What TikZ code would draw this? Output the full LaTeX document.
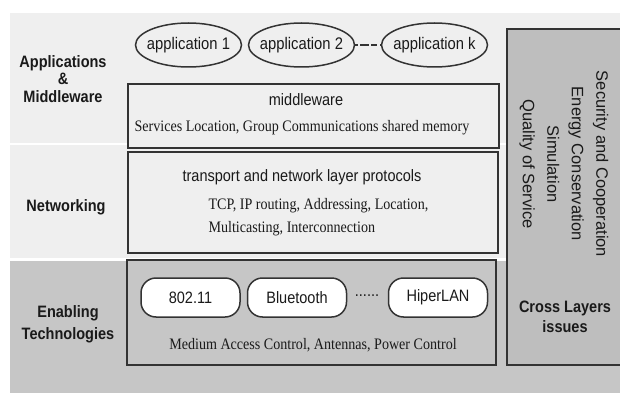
\documentclass[tikz,border=0pt]{standalone}
\usepackage{fontspec}
\setsansfont[FakeStretch=0.88]{Liberation Sans}
\setmainfont[FakeStretch=0.88]{Liberation Serif}
\newfontfamily\rotsans{Liberation Sans}
\usetikzlibrary{shapes.geometric}
\definecolor{bandlight}{HTML}{EFEFEF}
\definecolor{banddark}{HTML}{C6C6C6}
\definecolor{crossgray}{HTML}{BEBEBE}
\definecolor{boxline}{HTML}{333333}
\definecolor{txt}{HTML}{1A1A1A}
\tikzset{
  layerbox/.style={draw=boxline, line width=1.7pt, inner sep=0pt, anchor=north west},
  appell/.style={ellipse, draw=boxline, line width=1.5pt, minimum width=106pt, minimum height=44pt, inner xsep=-4.5pt, inner ysep=0pt,
    font=\sffamily\fontsize{16.8}{19}\selectfont, text=txt},
  techbox/.style={draw=boxline, line width=1.5pt, fill=white, rounded corners=15pt, minimum width=99pt, minimum height=39pt, inner sep=0pt,
    font=\sffamily\fontsize{16.5}{19}\selectfont, text=txt},
  sidelabel/.style={align=center, font=\sffamily\bfseries\fontsize{16.5}{19.5}\selectfont, text=txt},
  titletext/.style={font=\sffamily\fontsize{16.5}{19}\selectfont, text=txt},
  detailtext/.style={font=\rmfamily\fontsize{16}{23}\selectfont, text=txt},
}
\begin{document}
\begin{tikzpicture}[x=1pt,y=-1pt]
\useasboundingbox (0,0) rectangle (620,393);
\fill[white] (0,0) rectangle (620,393);
% bands
\fill[bandlight] (10,13) rectangle (620,143);
\fill[bandlight] (10,145) rectangle (620,258);
\fill[banddark] (10,261) rectangle (620,393);
% cross layer box
\node[layerbox, fill=crossgray, minimum width=130pt, minimum height=336pt] (cross) at (506,28) {};
\node[rotate=-90, align=center, font=\rotsans\fontsize{16.5}{24.5}\selectfont, text=txt] (issues) at (564,164)
  {Security and Cooperation\\Energy Conservation\\Simulation\\Quality of Service};
\node[sidelabel] (crosslbl) at (565,317) {Cross Layers\\issues};
% layer boxes
\node[layerbox, fill=bandlight, minimum width=371pt, minimum height=64pt] (mw) at (127,83) {};
\node[layerbox, fill=bandlight, minimum width=370pt, minimum height=101pt] (net) at (127,151) {};
\node[layerbox, fill=banddark, minimum width=369pt, minimum height=105pt] (tech) at (126,259) {};
% side labels
\node[sidelabel, font=\sffamily\bfseries\fontsize{16.5}{17.5}\selectfont] (applbl) at (63,79) {Applications\\\&\\Middleware};
\node[sidelabel] (netlbl) at (66,207) {Networking};
\node[sidelabel, font=\sffamily\bfseries\fontsize{16.5}{22}\selectfont] (techlbl) at (68,324) {Enabling\\Technologies};
% applications
\node[appell] (app1) at (188.5,45) {application 1};
\node[appell] (app2) at (301.5,45) {application 2};
\node[appell] (appk) at (434.5,45) {application k};
\draw[boxline, line width=2.6pt, dash pattern=on 3pt off 2pt on 9pt off 2pt on 6pt] (app2.east) -- (appk.west);
% middleware
\node[titletext] (mwtitle) at (306,100) {middleware};
\node[detailtext] (mwdet) at (302,128) {Services Location, Group Communications shared memory};
% networking
\node[titletext] (nettitle) at (302,177) {transport and network layer protocols};
\node[detailtext, align=left, anchor=west] (netdet) at (205,217) {TCP, IP routing, Addressing, Location,\\Multicasting, Interconnection};
% technologies
\node[techbox] (t1) at (190.5,297.5) {802.11};
\node[techbox] (t2) at (297,297.5) {Bluetooth};
\node[techbox] (t3) at (438,297.5) {HiperLAN};
\node[titletext] (dots) at (367,296) {......};
\node[detailtext] (techdet) at (313,345) {Medium Access Control, Antennas, Power Control};
\end{tikzpicture}
\end{document}
